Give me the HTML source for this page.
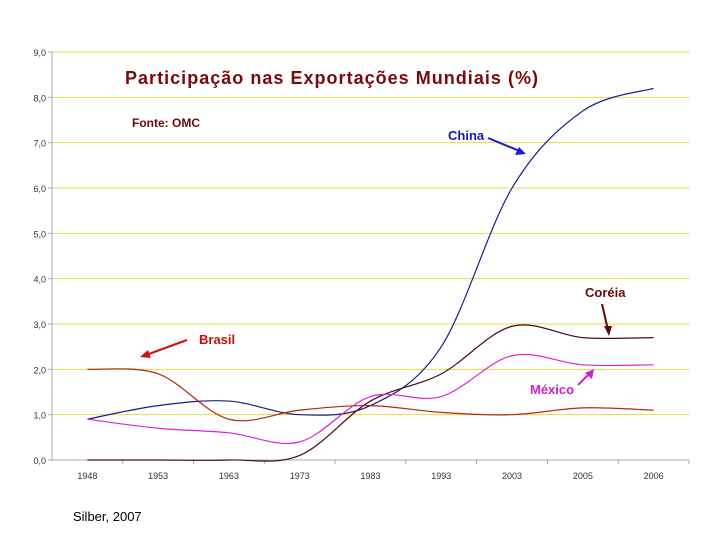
<!DOCTYPE html>
<html><head><meta charset="utf-8"><style>
body{margin:0;background:#fff;width:720px;height:540px;overflow:hidden}
svg{font-family:"Liberation Sans",Arial,sans-serif}
</style></head><body>
<svg id="c" width="720" height="540">
<text x="125" y="84" textLength="413" font-size="18" font-weight="bold" fill="#7a0a0a">Participação nas Exportações Mundiais (%)</text>
<text x="132" y="127" font-size="12" font-weight="bold" fill="#6a0a0a">Fonte: OMC</text>
<text x="73" y="521" font-size="13" fill="#000">Silber, 2007</text>
<g id="grid"></g><g id="axes"></g><g id="lines"></g>
<g>
<text x="448" y="140" font-size="13" font-weight="bold" fill="#1a1aa0">China</text>
<line x1="488" y1="138" x2="522" y2="152" stroke="#1a1ad0" stroke-width="2"/>
<polygon points="526,154 515,155 519,147" fill="#1a1ad0"/></g>
<g>
<text x="585" y="297" font-size="13" font-weight="bold" fill="#6a0a0a">Coréia</text>
<line x1="602" y1="304" x2="608" y2="330" stroke="#5a0a0a" stroke-width="2"/>
<polygon points="609,336 604,326 612,326" fill="#5a0a0a"/></g>
<g>
<text x="199" y="344" font-size="13" font-weight="bold" fill="#c01010">Brasil</text>
<line x1="187" y1="340" x2="146" y2="355" stroke="#d01010" stroke-width="2"/>
<polygon points="140,357 148,350 151,358" fill="#d01010"/></g>
<g>
<text x="530" y="394" font-size="13" font-weight="bold" fill="#cc22cc">México</text>
<line x1="578" y1="385" x2="590" y2="373" stroke="#cc22cc" stroke-width="2"/>
<polygon points="594,369 592,379 585,373" fill="#cc22cc"/></g>
</svg>
<script>
const years=["1948","1953","1963","1973","1983","1993","2003","2005","2006"];
const yTicks=[0,1,2,3,4,5,6,7,8,9];
const china=[0.9,1.2,1.3,1.0,1.2,2.5,6.0,7.7,8.2];
const coreia=[0.0,0.0,0.0,0.1,1.3,1.9,2.95,2.7,2.7];
const brasil=[2.0,1.9,0.9,1.1,1.2,1.05,1.0,1.15,1.1];
const mexico=[0.9,0.7,0.6,0.4,1.4,1.4,2.3,2.1,2.1];
const NS="http://www.w3.org/2000/svg";
const L=52,R=689,T=52,B=460,step=(R-L)/years.length;
const xS=i=>L+step*(i+0.5), yS=v=>B-(v/9)*(B-T);
function mk(t,a,p){const e=document.createElementNS(NS,t);for(const k in a)e.setAttribute(k,a[k]);p.appendChild(e);return e;}
const g=document.getElementById('grid'),ax=document.getElementById('axes'),ln=document.getElementById('lines');
yTicks.forEach(v=>{
 if(v>0){const l=mk('line',{x1:L,x2:R,y1:yS(v),y2:yS(v),stroke:'#e6d84a','stroke-width':1},g);
 
 }
 const t=mk('text',{x:46,y:yS(v)+4,'text-anchor':'end','font-size':9,fill:'#333'},ax);t.textContent=v.toFixed(1).replace('.',',');
 
 
 mk('line',{x1:L-4,x2:L,y1:yS(v),y2:yS(v),stroke:'#aaa'},ax);
});
mk('line',{x1:L,x2:L,y1:T,y2:B,stroke:'#aaa'},ax);
mk('line',{x1:L,x2:R,y1:B,y2:B,stroke:'#aaa'},ax);
years.forEach((y,i)=>{
 mk('line',{x1:L+step*(i+1),x2:L+step*(i+1),y1:B,y2:B+4,stroke:'#aaa'},ax);
 const t=mk('text',{x:xS(i),y:479,'text-anchor':'middle','font-size':9,fill:'#333'},ax);t.textContent=y;
 
 
});
function path(vals){
 const p=vals.map((v,i)=>[xS(i),yS(v)]);let d='M'+p[0][0]+','+p[0][1];
 for(let i=0;i<p.length-1;i++){const p0=p[Math.max(0,i-1)],p1=p[i],p2=p[i+1],p3=p[Math.min(p.length-1,i+2)];
  d+=' C'+(p1[0]+(p2[0]-p0[0])/6)+','+(p1[1]+(p2[1]-p0[1])/6)+' '+(p2[0]-(p3[0]-p1[0])/6)+','+(p2[1]-(p3[1]-p1[1])/6)+' '+p2[0]+','+p2[1];}
 return d;}
[[china,'#1c1c8c','china-line'],[coreia,'#4a0a18','coreia-line'],[brasil,'#b02a10','brasil-line'],[mexico,'#dd22dd','mexico-line']].forEach(s=>{
 const e=mk('path',{d:path(s[0]),fill:'none',stroke:s[1],'stroke-width':1.2},ln);
 
 
});
</script>
</body></html>
